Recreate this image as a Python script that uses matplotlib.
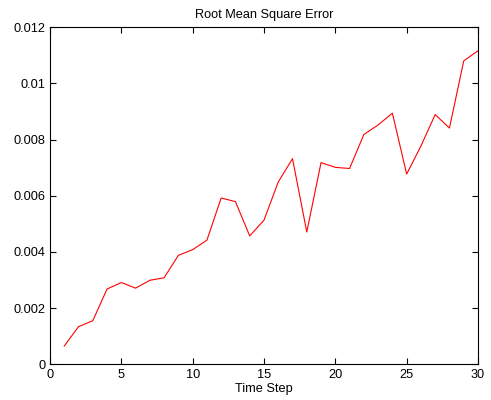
import numpy as np
import matplotlib
matplotlib.use("Agg")
import matplotlib.pyplot as plt

# Time steps and RMSE values
time_step = np.arange(1, 31)
rmse = [0.00065, 0.00134, 0.00155, 0.00268, 0.00291, 0.00271, 0.00299, 0.00308,
        0.00388, 0.00408, 0.00442, 0.00592, 0.00579, 0.00457, 0.00513, 0.00649,
        0.00732, 0.00471, 0.00718, 0.00701, 0.00697, 0.00818, 0.00852, 0.00894,
        0.00677, 0.00777, 0.00889, 0.00841, 0.01080, 0.01116]

x_ticks = [0, 5, 10, 15, 20, 25, 30]
y_ticks = [0, 0.002, 0.004, 0.006, 0.008, 0.01, 0.012]
y_tick_labels = ['0', '0.002', '0.004', '0.006', '0.008', '0.01', '0.012']

plt.rcParams['font.family'] = ['Liberation Sans', 'DejaVu Sans']

fig = plt.figure(figsize=(4.91, 4.0), dpi=100)
ax = fig.add_axes([0.1018, 0.0893, 0.8717, 0.8427])

ax.plot(time_step, rmse, color='#ff0000', linewidth=0.8)

ax.set_xlim(0, 30)
ax.set_ylim(0, 0.012)
ax.set_xticks(x_ticks)
ax.set_yticks(y_ticks)
ax.set_yticklabels(y_tick_labels)

ax.tick_params(direction='in', top=True, right=True, length=4, width=0.8,
               labelsize=9.2)
ax.tick_params(axis='x', pad=3.5)
ax.tick_params(axis='y', pad=3)
for side in ax.spines.values():
    side.set_linewidth(0.8)

ax.set_title('Root Mean Square Error', fontsize=9.2, pad=6.5)
ax.set_xlabel('Time Step', fontsize=9.2, labelpad=1)

fig.savefig('out.png', dpi=100)
